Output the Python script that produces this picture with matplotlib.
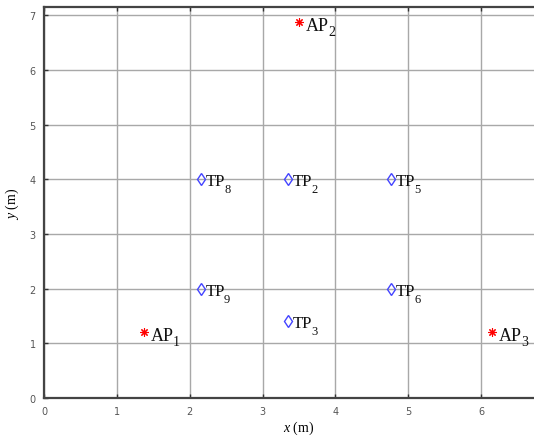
import matplotlib.pyplot as plt

plt.rcParams['mathtext.fontset'] = 'custom'
plt.rcParams['mathtext.rm'] = 'Liberation Serif'
plt.rcParams['mathtext.it'] = 'Liberation Serif:italic'

# access points (red asterisks) and test points (blue diamonds)
ap_names = ['1', '2', '3']
ap_x = [1.37, 3.50, 6.15]
ap_y = [1.21, 6.88, 1.20]

tp_names = ['8', '2', '5', '9', '6', '3']
tp_x = [2.15, 3.35, 4.76, 2.15, 4.76, 3.35]
tp_y = [4.0, 4.0, 4.0, 2.0, 2.0, 1.41]

fig = plt.figure(figsize=(5.34, 4.39), dpi=100)
ax = fig.add_axes([44 / 534, 40 / 439, 510 / 534, 391 / 439])

asterisk = (8, 2, 0)
ax.plot(ap_x, ap_y, linestyle='none', marker=asterisk, color='red',
        markersize=6, markeredgewidth=0.8, zorder=3)
ax.plot(tp_x, tp_y, 'd', color='#4444ff', markerfacecolor='none', markersize=6,
        markeredgewidth=1.0, zorder=3)

px = 0.72  # points per pixel at 100 dpi
fig.canvas.draw()
r = fig.canvas.get_renderer()


def label(x, y, main, sub, size, subsize, dx, dy, drop, gap):
    t = ax.annotate(main, (x, y), xytext=(dx * px, -dy * px), textcoords='offset points',
                    fontsize=size, family='Liberation Serif', color='#111111',
                    va='baseline', ha='left')
    w = t.get_window_extent(r).width
    ax.annotate(sub, (x, y), xytext=((dx + w + gap) * px, -(dy + drop) * px),
                textcoords='offset points', fontsize=subsize,
                family='Liberation Serif', color='#111111', va='baseline', ha='left')


for n, x, y in zip(ap_names, ap_x, ap_y):
    label(x, y, 'AP', n, 13, 10, 7, 8, 5, -1)
for n, x, y in zip(tp_names, tp_x, tp_y):
    label(x, y, 'TP', n, 12, 9, 5, 6, 7, -1)

ax.set_xlim(0, 7)
ax.set_ylim(0, 7.15)
ax.set_xticks(range(0, 7))
ax.set_yticks(range(0, 8))
ax.grid(True, color='#a8a8a8', linewidth=1.0)
ax.set_axisbelow(True)
ax.tick_params(direction='in', length=3, width=1, labelsize=7, colors='#333333',
               top=True, right=False, labelcolor='#555555', pad=6)
for s in ax.spines.values():
    s.set_linewidth(1.6)
    s.set_color('#444444')

ax.set_xlabel('$x$ (m)', fontsize=10, family='Liberation Serif', labelpad=2)
ax.set_ylabel('$y$ (m)', fontsize=10, family='Liberation Serif', labelpad=6)

fig.savefig('out.png', dpi=100)
